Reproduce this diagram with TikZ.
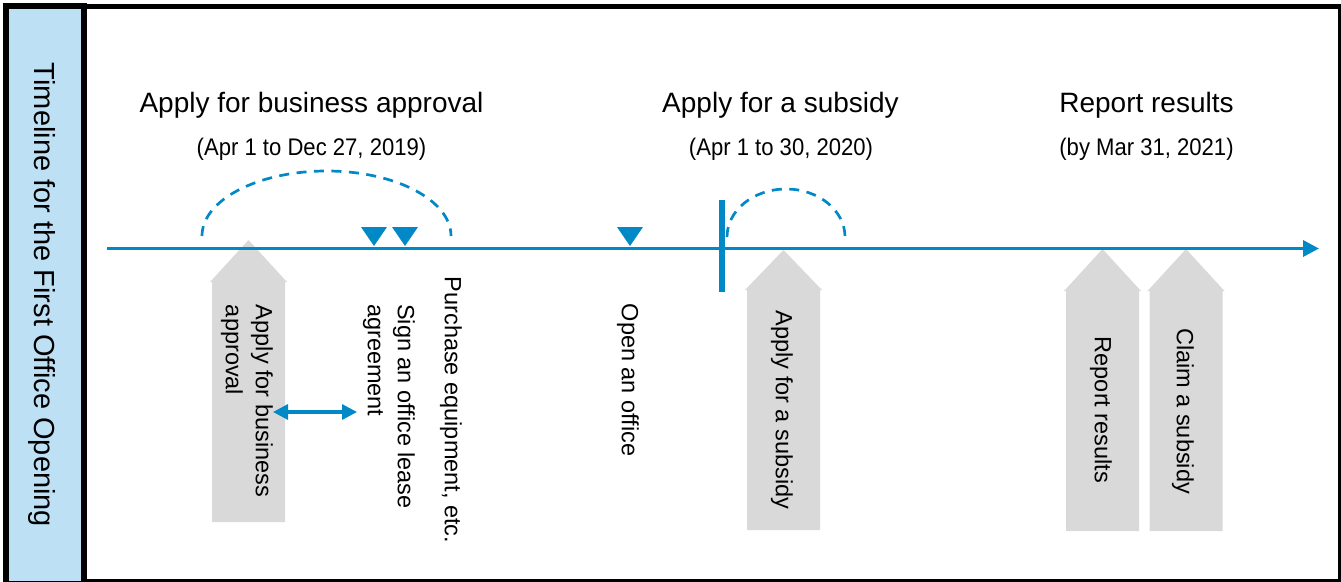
\documentclass[tikz,border=0pt]{standalone}
\usepackage{fontspec}
\setmainfont{Liberation Sans}
\newfontfamily\narrowsans[FakeStretch=0.92]{Liberation Sans}
\usetikzlibrary{arrows.meta}
\definecolor{tlblue}{RGB}{0,137,198}
\definecolor{panelblue}{RGB}{190,224,244}
\definecolor{blockgray}{RGB}{217,217,217}

\begin{document}
\begin{tikzpicture}
  [x=1pt,y=-1pt,
   every node/.style={inner sep=0pt,outer sep=0pt},
   head/.style={font=\fontsize{28}{32}\selectfont,anchor=base},
   sub/.style={font=\narrowsans\fontsize{24}{28}\selectfont,anchor=base},
   vlabel/.style={font=\fontsize{23.5}{30}\selectfont,rotate=-90,align=left},
   dashline/.style={tlblue,line width=2.7pt,dash pattern=on 10pt off 7.5pt}]
  \path[use as bounding box,clip] (0,0) rectangle (1341,581);

  % frame
  \fill[panelblue] (6,6) rectangle (84,584);
  \draw[line width=5pt] (84,6.5) rectangle (1340,581.5);
  \draw[line width=6pt] (6,6) rectangle (84,584);
  \node[rotate=-90,font=\fontsize{29}{34}\selectfont] (title) at (42,295) {Timeline for the First Office Opening};

  % gray blocks
  \foreach \cx/\tip/\sh/\bot in {248.5/240/282/522,783.5/250/290/530,1102.5/249/291/531,1186/249/291/531}
    \fill[blockgray] (\cx,\tip) -- (\cx+38.5,\sh) -- (\cx+36.5,\sh) -- (\cx+36.5,\bot)
      -- (\cx-36.5,\bot) -- (\cx-36.5,\sh) -- (\cx-38.5,\sh) -- cycle;

  % time line
  \coordinate (start) at (107,248.5);
  \coordinate (end) at (1319,248.5);
  \draw[tlblue,line width=3.5pt,-{Triangle[length=16pt,width=16pt]}] (start) -- (end);
  \coordinate (tick1) at (722,200);
  \coordinate (tick2) at (722,292);
  \draw[tlblue,line width=5.5pt] (tick1) -- (tick2);

  \foreach \tx in {374,405,630}
    \fill[tlblue] (\tx-13,227) -- (\tx+13,227) -- (\tx,246) -- cycle;

  % dashed spans
  \coordinate (span1) at (202,236);
  \coordinate (span2) at (727,237);
  \draw[dashline] (span1) arc[start angle=180,end angle=360,x radius=124.5,y radius=65];
  \draw[dashline] (span2) arc[start angle=180,end angle=360,x radius=59,y radius=48];

  % headings
  \node[head] (h1) at (311.5,112) {Apply for business approval};
  \node[sub] (s1) at (311.5,155) {(Apr 1 to Dec 27, 2019)};
  \node[head] (h2) at (780.5,112) {Apply for a subsidy};
  \node[sub] (s2) at (781,155) {(Apr 1 to 30, 2020)};
  \node[head] (h3) at (1146.5,112) {Report results};
  \node[sub] (s3) at (1146.5,155) {(by Mar 31, 2021)};

  % steps
  \node[vlabel] (l1) at (247,401) {Apply for business\\approval};
  \node[vlabel] (l2) at (389,406.5) {Sign an office lease\\agreement};
  \node[vlabel] (l3) at (451,410) {Purchase equipment, etc.};
  \node[vlabel] (l4) at (628,380) {Open an office};
  \node[vlabel] (l5) at (782,410) {Apply for a subsidy};
  \node[vlabel] (l6) at (1101,410) {Report results};
  \node[vlabel] (l7) at (1183,411) {Claim a subsidy};

  \coordinate (d1) at (273,412);
  \coordinate (d2) at (357,412);
  \draw[tlblue,line width=3.2pt,{Triangle[length=15pt,width=15pt]}-{Triangle[length=15pt,width=15pt]}] (d1) -- (d2);

\end{tikzpicture}
\end{document}
